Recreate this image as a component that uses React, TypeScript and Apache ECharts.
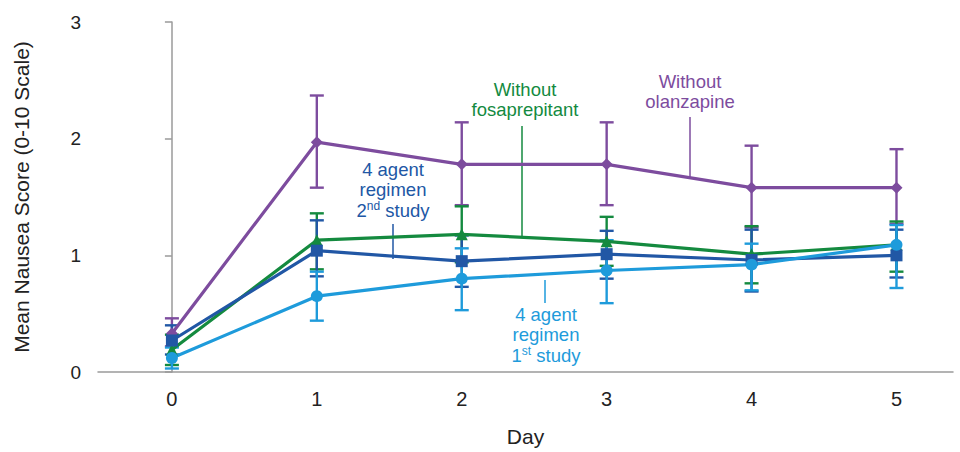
import React, { useEffect, useRef } from "react";
import * as echarts from "echarts";

const days = [0, 1, 2, 3, 4, 5];
const dayTicks = [0, 1, 2, 3, 4, 5];

const olanzMean = [0.33, 1.97, 1.78, 1.78, 1.58, 1.58];
const olanzLow = [0.22, 1.58, 1.43, 1.43, 1.24, 1.27];
const olanzHigh = [0.46, 2.37, 2.14, 2.14, 1.94, 1.91];

const fosaMean = [0.19, 1.13, 1.18, 1.12, 1.01, 1.09];
const fosaLow = [0.06, 0.88, 0.94, 0.91, 0.76, 0.86];
const fosaHigh = [0.32, 1.36, 1.42, 1.33, 1.25, 1.29];

const secondMean = [0.27, 1.04, 0.95, 1.01, 0.96, 1.0];
const secondLow = [0.15, 0.82, 0.73, 0.8, 0.69, 0.81];
const secondHigh = [0.4, 1.3, 1.17, 1.21, 1.22, 1.22];

const firstMean = [0.12, 0.65, 0.8, 0.87, 0.92, 1.09];
const firstLow = [0.03, 0.44, 0.53, 0.59, 0.7, 0.72];
const firstHigh = [0.21, 0.86, 1.06, 1.13, 1.1, 1.26];

const PURPLE = "#7D4C9E";
const GREEN = "#148A3F";
const DBLUE = "#2157A5";
const LBLUE = "#1E9BDB";
const FONT = "'Liberation Sans', Arial, sans-serif";

function errSeries(name: string, color: string, low: number[], high: number[]) {
  return {
    type: "custom",
    name: name + " err",
    z: 2,
    data: days.map((d, i) => [d, low[i], high[i]]),
    renderItem: (params: any, api: any) => {
      const x = api.value(0);
      const lo = api.coord([x, api.value(1)]);
      const hi = api.coord([x, api.value(2)]);
      const w = 7;
      const st = { stroke: color, lineWidth: 2.4 };
      return {
        type: "group",
        children: [
          { type: "line", shape: { x1: lo[0], y1: lo[1], x2: hi[0], y2: hi[1] }, style: st },
          { type: "line", shape: { x1: lo[0] - w, y1: lo[1], x2: lo[0] + w, y2: lo[1] }, style: st },
          { type: "line", shape: { x1: hi[0] - w, y1: hi[1], x2: hi[0] + w, y2: hi[1] }, style: st },
        ],
      };
    },
  };
}

function lineSeries(name: string, color: string, mean: number[], symbol: string, size: number) {
  return {
    type: "line",
    name,
    z: 3,
    data: days.map((d, i) => [d, mean[i]]),
    symbol,
    symbolSize: size,
    showSymbol: true,
    lineStyle: { color, width: 3.2 },
    itemStyle: { color },
  };
}

function annot(lines: any[], x: number, y: number, color: string) {
  return {
    type: "text",
    x,
    y,
    style: {
      text: lines.join("\n"),
      fill: color,
      fontSize: 18.5,
      fontFamily: FONT,
      align: "center",
      verticalAlign: "top",
      lineHeight: 20.5,
      rich: {
        sup: { fontSize: 12, verticalAlign: "top", lineHeight: 20.5, fill: color, padding: [0, 0, 8, 0] },
      },
    },
  };
}

function vline(x: number, y1: number, y2: number, color: string) {
  return {
    type: "line",
    shape: { x1: x, y1, x2: x, y2 },
    style: { stroke: color, lineWidth: 1.5 },
  };
}

export default function App() {
  const ref = useRef<HTMLDivElement>(null);
  useEffect(() => {
    document.body.style.margin = "0";
    document.body.style.overflow = "hidden";
    if (!ref.current) return;
    const chart = echarts.init(ref.current, undefined, { renderer: "svg" });
    chart.setOption({
      animation: false,
      backgroundColor: "#ffffff",
      grid: { left: 98, right: 7, top: 22, bottom: 76 },
      xAxis: {
        type: "value",
        min: -0.51,
        max: 5.39,
        name: "Day",
        nameLocation: "middle",
        nameGap: 54,
        nameTextStyle: { fontSize: 21, color: "#222", fontFamily: FONT },
        axisLine: { show: true, lineStyle: { color: "#9a9a9a", width: 1.5 } },
        axisTick: { show: false },
        splitLine: { show: false },
        axisLabel: {
          customValues: dayTicks,
          fontSize: 20,
          color: "#222",
          fontFamily: FONT,
          margin: 17,
        },
      },
      yAxis: {
        type: "value",
        min: 0,
        max: 3,
        interval: 1,
        name: "Mean Nausea Score (0-10 Scale)",
        nameLocation: "middle",
        nameGap: 66,
        nameTextStyle: { fontSize: 21, color: "#222", fontFamily: FONT },
        axisLine: { show: true, lineStyle: { color: "#9a9a9a", width: 1.5 } },
        axisTick: { show: true, length: 7, lineStyle: { color: "#9a9a9a", width: 1.5 } },
        splitLine: { show: false },
        axisLabel: { fontSize: 19, color: "#222", fontFamily: FONT, margin: 17 },
      },
      series: [
        errSeries("olanz", PURPLE, olanzLow, olanzHigh),
        errSeries("fosa", GREEN, fosaLow, fosaHigh),
        errSeries("second", DBLUE, secondLow, secondHigh),
        errSeries("first", LBLUE, firstLow, firstHigh),
        lineSeries("Without olanzapine", PURPLE, olanzMean, "diamond", 12),
        lineSeries("Without fosaprepitant", GREEN, fosaMean, "triangle", 12),
        lineSeries("4 agent regimen 2nd study", DBLUE, secondMean, "rect", 12),
        lineSeries("4 agent regimen 1st study", LBLUE, firstMean, "circle", 12),
      ],
      graphic: [
        annot(["Without", "fosaprepitant"], 525, 79, GREEN),
        vline(522, 126, 238, GREEN),
        annot(["Without", "olanzapine"], 690, 71, PURPLE),
        vline(690, 117, 178, PURPLE),
        annot(["4 agent", "regimen", "2{sup|nd} study"], 393, 159, DBLUE),
        vline(393, 224, 259, DBLUE),
        annot(["4 agent", "regimen", "1{sup|st} study"], 546, 304, LBLUE),
        vline(545, 280, 303, LBLUE),
      ],
    });
    return () => chart.dispose();
  }, []);
  return (
    <div
      ref={ref}
      style={{ position: "fixed", left: 0, top: 0, width: 960, height: 452 }}
    />
  );
}
